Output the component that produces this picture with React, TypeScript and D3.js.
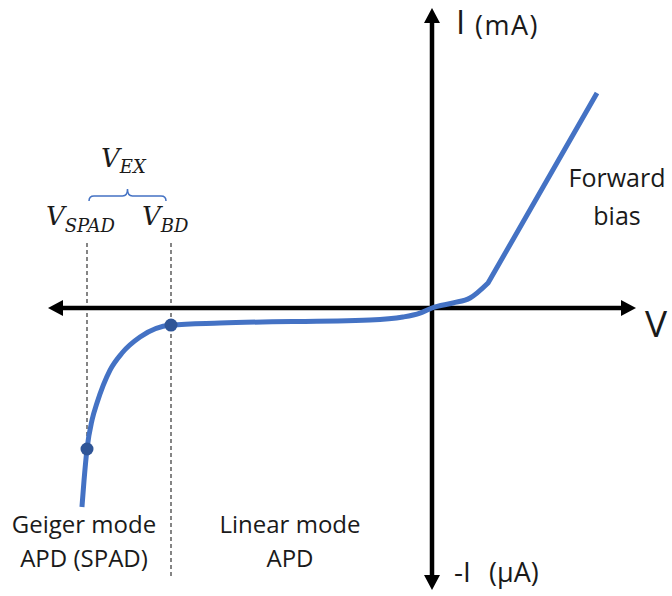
import React from "react";
import * as d3 from "d3";

// I–V characteristic of an avalanche photodiode (arbitrary units, reverse bias to the left)
const biasVoltage = [-29.17, -29.0, -28.75, -28.33, -27.92, -26.83, -25.83, -24.33, -21.75, -17.67, -5.17, -2.42, -1.0, 0, 1.75, 3.17, 4.67, 13.75];
const diodeCurrent = [-16.58, -14.4, -11.75, -9.33, -7.92, -5.17, -3.75, -2.42, -1.42, -1.25, -1.0, -0.75, -0.42, 0, 0.42, 0.83, 2.08, 17.92];

// Marked operating points: excess-biased SPAD and breakdown voltage
const markerVoltage = [-28.75, -21.75];
const markerCurrent = [-11.75, -1.42];
const markerLabels = ["SPAD", "BD"];

const xDomain = [-32, 17];
const yDomain = [-23.5, 25];

const W = 672;
const H = 596;
const BLUE = "#4472C4";
const DOT = "#2F5597";
const INK = "#1a1a1a";
const SANS = "'Open Sans', 'Noto Sans', sans-serif";
const MATH = "'DejaVu Serif', serif";

export default function App() {
  const x = d3.scaleLinear().domain(xDomain).range([48, 636]);
  const y = d3.scaleLinear().domain(yDomain).range([590, 8]);

  const pts = biasVoltage.map((v, i) => [v, diodeCurrent[i]] as [number, number]);
  const line = d3
    .line<[number, number]>()
    .x((d) => x(d[0]))
    .y((d) => y(d[1]))
    .curve(d3.curveMonotoneX);
  // smooth reverse/low-forward region, then the straight ohmic forward branch
  const last = pts[pts.length - 1];
  const curvePath = `${line(pts.slice(0, -1)) || ""}L${x(last[0])},${y(last[1])}`;

  const x0 = x(0);
  const y0 = y(0);
  const head = 15;
  const half = 8;

  const xs = x(markerVoltage[0]);
  const xb = x(markerVoltage[1]);
  const braceY = 196;
  const bl = xs + 2;
  const br = xb - 5;
  const bm = (bl + br) / 2;
  const brace = `M${bl},${braceY + 5} Q${bl},${braceY} ${bl + 5},${braceY} L${bm - 5},${braceY} Q${bm},${braceY} ${bm},${braceY - 7} Q${bm},${braceY} ${bm + 5},${braceY} L${br - 5},${braceY} Q${br},${braceY} ${br},${braceY + 5}`;

  return (
    <svg
      width={W}
      height={H}
      viewBox={`0 0 ${W} ${H}`}
      style={{ position: "absolute", left: 0, top: 0, background: "#fff" }}
    >
      {/* guide lines dropped from the voltage labels */}
      <line x1={xs} x2={xs} y1={243} y2={y(markerCurrent[0])} stroke="#222" strokeWidth={1.1} strokeDasharray="4 3" />
      <line x1={xb} x2={xb} y1={243} y2={578} stroke="#222" strokeWidth={1.1} strokeDasharray="4 3" />

      {/* axes */}
      <line x1={x(xDomain[0]) + head - 2} x2={x(xDomain[1]) - head + 2} y1={y0} y2={y0} stroke="#000" strokeWidth={4.5} />
      <line x1={x0} x2={x0} y1={y(yDomain[1]) + head - 2} y2={y(yDomain[0]) - head + 2} stroke="#000" strokeWidth={4.5} />
      <path d={`M${x(xDomain[0])},${y0} L${x(xDomain[0]) + head},${y0 - half} L${x(xDomain[0]) + head},${y0 + half} Z`} fill="#000" />
      <path d={`M${x(xDomain[1])},${y0} L${x(xDomain[1]) - head},${y0 - half} L${x(xDomain[1]) - head},${y0 + half} Z`} fill="#000" />
      <path d={`M${x0},${y(yDomain[1])} L${x0 - half},${y(yDomain[1]) + head} L${x0 + half},${y(yDomain[1]) + head} Z`} fill="#000" />
      <path d={`M${x0},${y(yDomain[0])} L${x0 - half},${y(yDomain[0]) - head} L${x0 + half},${y(yDomain[0]) - head} Z`} fill="#000" />

      {/* I–V curve */}
      <path d={curvePath} fill="none" stroke={BLUE} strokeWidth={5} strokeLinejoin="round" />
      {markerVoltage.map((v, i) => (
        <circle key={i} cx={x(v)} cy={y(markerCurrent[i])} r={6.5} fill={DOT} />
      ))}

      {/* axis labels */}
      <text x={456} y={34} fontFamily={SANS} fontSize={33} fill={INK}>I</text>
      <text x={475} y={35} fontFamily={SANS} fontSize={27} letterSpacing={1.5} fill={INK}>(mA)</text>
      <text x={454} y={582} fontFamily={SANS} fontSize={28} fill={INK}>-I</text>
      <text x={489} y={582} fontFamily={SANS} fontSize={27} fill={INK}>(μA)</text>
      <text x={645} y={337} fontFamily={SANS} fontSize={37} fill={INK}>V</text>

      {/* region labels */}
      <text x={617} y={187} textAnchor="middle" fontFamily={SANS} fontSize={25} fill={INK}>Forward</text>
      <text x={617} y={225} textAnchor="middle" fontFamily={SANS} fontSize={25} fill={INK}>bias</text>
      <text x={84} y={533} textAnchor="middle" fontFamily={SANS} fontSize={24} fill={INK}>Geiger mode</text>
      <text x={84} y={567} textAnchor="middle" fontFamily={SANS} fontSize={24} fill={INK}>APD (SPAD)</text>
      <text x={290} y={533} textAnchor="middle" fontFamily={SANS} fontSize={24} fill={INK}>Linear mode</text>
      <text x={290} y={567} textAnchor="middle" fontFamily={SANS} fontSize={24} fill={INK}>APD</text>

      {/* voltage labels */}
      <path d={brace} fill="none" stroke={BLUE} strokeWidth={1.5} />
      <text x={101} y={167} fontFamily={MATH} fontStyle="italic" fontSize={26} fill={INK}>
        V<tspan dy={6} fontSize={18}>EX</tspan>
      </text>
      {markerLabels.map((lab, i) => (
        <text key={lab} x={(i === 0 ? xs : xb) - 41 + i * 12} y={225} fontFamily={MATH} fontStyle="italic" fontSize={26} fill={INK}>
          V<tspan dy={7} fontSize={18}>{lab}</tspan>
        </text>
      ))}
    </svg>
  );
}
